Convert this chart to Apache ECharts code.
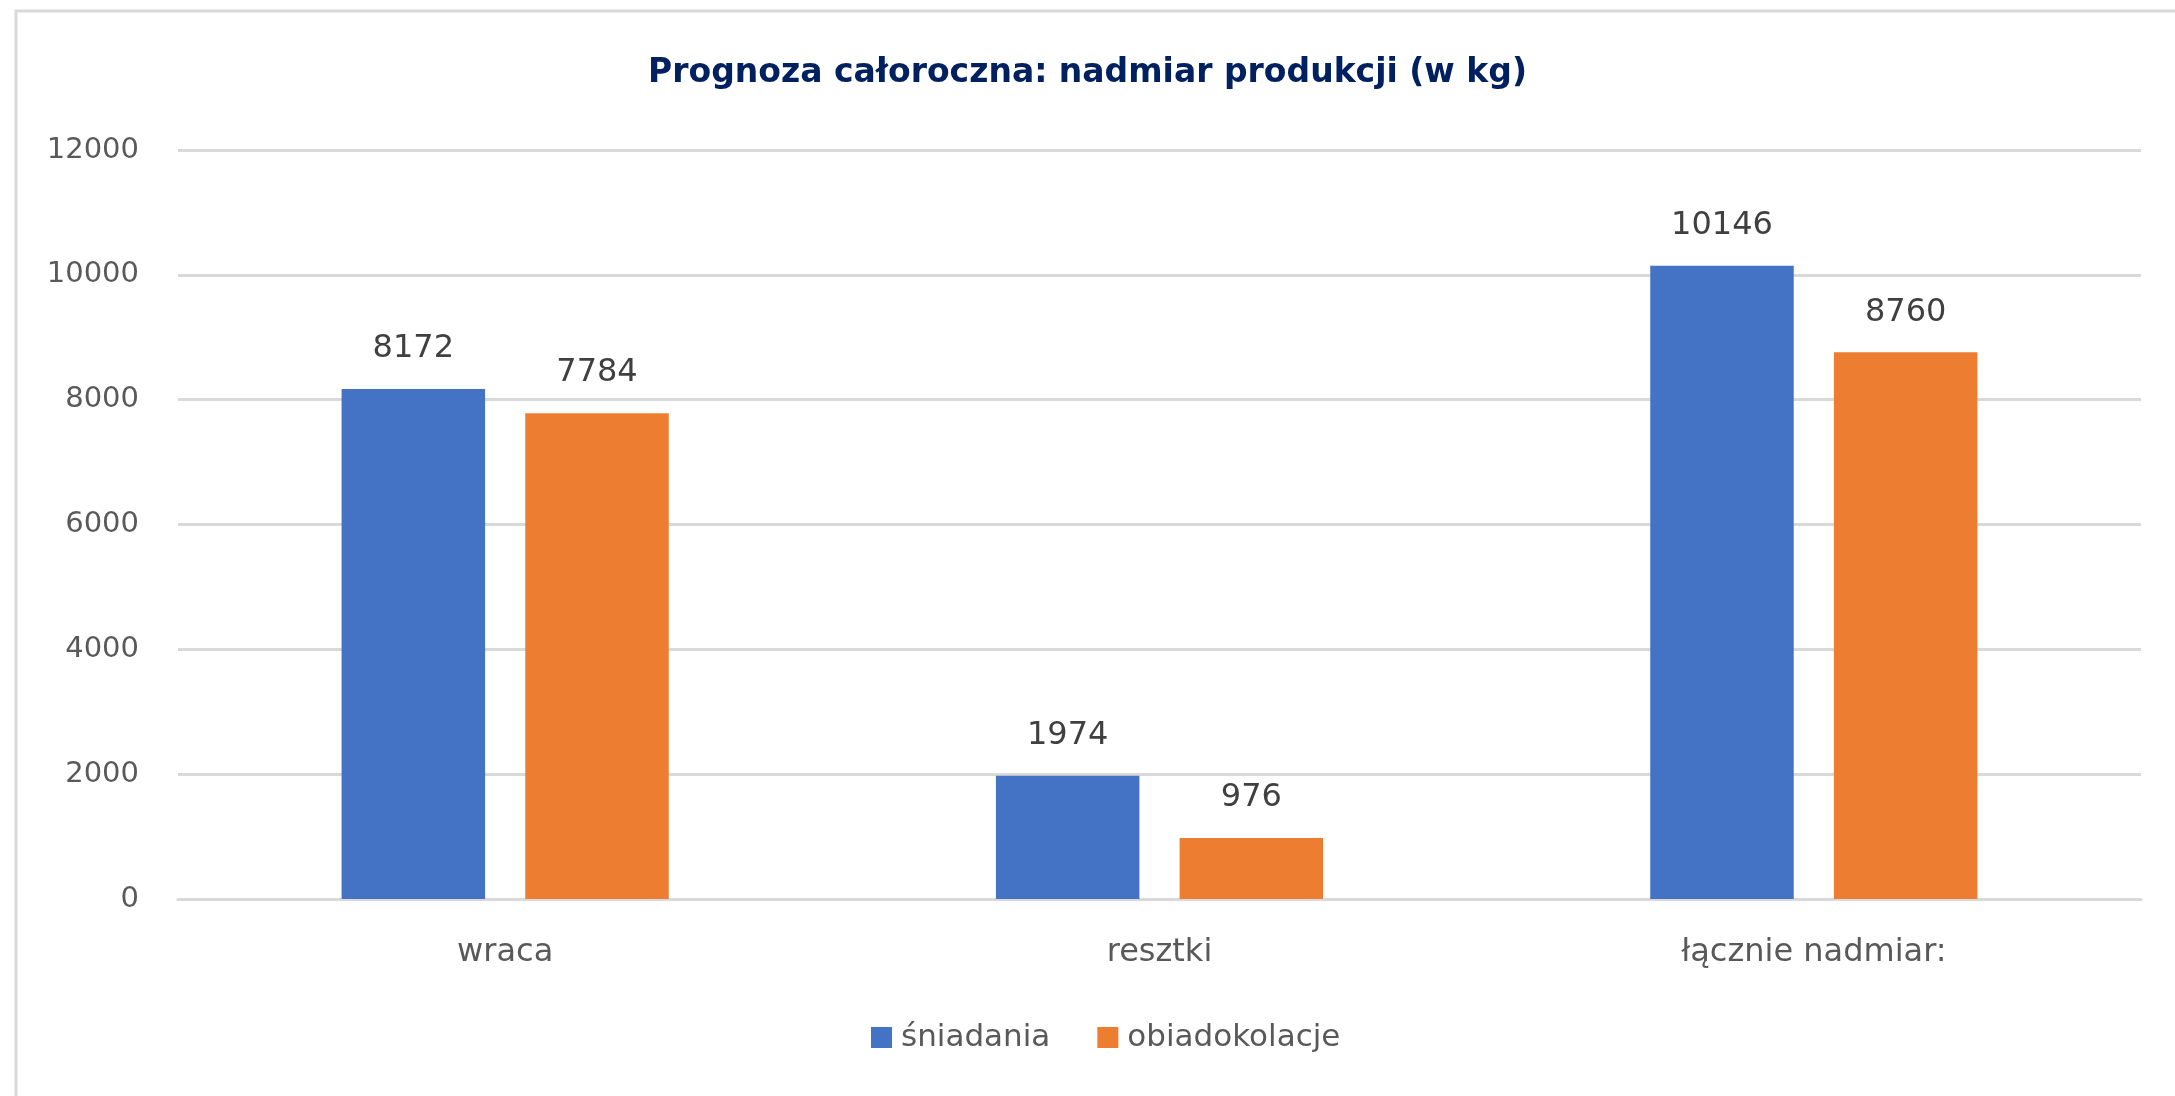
<!DOCTYPE html>
<html>
<head>
<meta charset="utf-8">
<script src="https://cdn.jsdelivr.net/npm/echarts@6/dist/echarts.min.js"></script>
<style>
html,body{margin:0;padding:0;background:#fff;}
#c{width:2175px;height:1096px;}
</style>
</head>
<body>
<div id="c"></div>
<script>
const categories = ['wraca', 'resztki', 'łącznie nadmiar:'];
const seriesNames = ['śniadania', 'obiadokolacje'];
const sniadania = [8172, 1974, 10146];
const obiadokolacje = [7784, 976, 8760];
const titleText = 'Prognoza całoroczna: nadmiar produkcji (w kg)';

const FONT = 'DejaVu Sans';
const chart = echarts.init(document.getElementById('c'), null, {renderer: 'canvas'});
chart.setOption({
  backgroundColor: '#ffffff',
  animation: false,
  graphic: [{
    type: 'rect',
    shape: {x: 16, y: 11, width: 2300, height: 1200},
    style: {fill: 'none', stroke: '#d9d9d9', lineWidth: 3},
    silent: true
  }],
  title: {
    text: titleText,
    left: 'center',
    top: 52,
    textStyle: {fontFamily: FONT, fontWeight: 'bold', fontSize: 33, color: '#002060'}
  },
  legend: {
    bottom: 38,
    left: 866,
    itemWidth: 21,
    itemHeight: 21,
    itemGap: 47,
    icon: 'rect',
    textStyle: {fontFamily: FONT, fontSize: 31, color: '#595959', padding: [0, 0, 0, 4]},
    data: seriesNames
  },
  grid: {left: 178, right: 34, top: 150, bottom: 197, containLabel: false},
  xAxis: {
    type: 'category',
    data: categories,
    axisLine: {show: true, lineStyle: {color: '#d9d9d9', width: 3}},
    axisTick: {show: false},
    axisLabel: {fontFamily: FONT, fontSize: 32, color: '#595959', margin: 38}
  },
  yAxis: {
    type: 'value',
    min: 0,
    max: 12000,
    interval: 2000,
    axisLine: {show: false},
    axisTick: {show: false},
    splitLine: {lineStyle: {color: '#d9d9d9', width: 3}},
    axisLabel: {fontFamily: FONT, fontSize: 29, color: '#595959', margin: 39,
      formatter: function (v) { return String(v); }}
  },
  series: [
    {
      name: seriesNames[0],
      type: 'bar',
      data: sniadania,
      barGap: '28%',
      barCategoryGap: '50%',
      itemStyle: {color: '#4472C4'},
      label: {show: true, position: 'top', distance: 24, fontFamily: FONT, fontSize: 32, color: '#404040'}
    },
    {
      name: seriesNames[1],
      type: 'bar',
      data: obiadokolacje,
      itemStyle: {color: '#ED7D31'},
      label: {show: true, position: 'top', distance: 24, fontFamily: FONT, fontSize: 32, color: '#404040'}
    }
  ]
});
</script>
</body>
</html>
